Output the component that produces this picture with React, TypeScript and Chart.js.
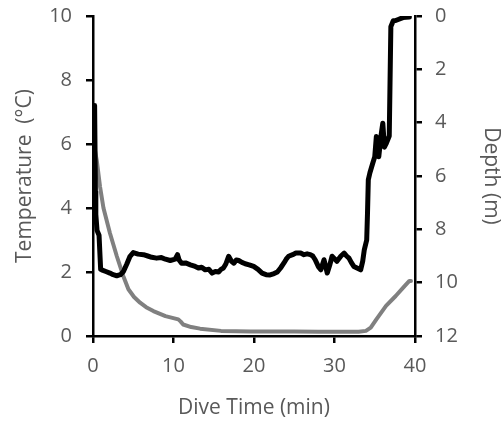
import React, { useEffect, useRef } from "react";
import { Chart, registerables } from "chart.js";

Chart.register(...registerables);

// Depth (m) trace – black, right axis (reversed)
const depthTime = [0.2, 0.3, 0.35, 0.5, 0.75, 0.95, 1.08, 1.6, 2.1, 2.5, 2.95, 3.4, 3.78, 4.2, 4.6, 5.0, 5.6, 6.27, 6.8, 7.3, 7.9, 8.5, 9.0, 9.6, 10.2, 10.5, 10.7, 11.0, 11.5, 12.1, 12.7, 13.1, 13.5, 13.95, 14.4, 14.8, 15.2, 15.6, 15.9, 16.2, 16.5, 16.85, 17.2, 17.5, 17.8, 18.1, 18.5, 18.9, 19.4, 19.96, 20.5, 21.0, 21.5, 22.0, 22.5, 22.9, 23.3, 23.7, 24.0, 24.3, 24.8, 25.2, 25.8, 26.2, 26.6, 27.0, 27.3, 27.6, 28.0, 28.3, 28.7, 29.1, 29.4, 29.7, 30.0, 30.3, 30.8, 31.2, 31.5, 31.8, 32.1, 32.4, 32.8, 33.25, 33.5, 33.7, 34.0, 34.1, 34.2, 34.4, 34.75, 35.0, 35.2, 35.5, 35.8, 36.0, 36.2, 36.4, 36.8, 37.0, 37.3, 37.6, 38.0, 38.5, 38.9, 39.3];
const depthValues = [3.36, 6.6, 7.44, 8.04, 8.22, 9.5, 9.52, 9.58, 9.64, 9.7, 9.74, 9.7, 9.58, 9.3, 9.01, 8.87, 8.93, 8.95, 9.0, 9.05, 9.08, 9.06, 9.12, 9.17, 9.12, 8.95, 9.15, 9.27, 9.26, 9.33, 9.39, 9.45, 9.42, 9.52, 9.5, 9.64, 9.58, 9.6, 9.5, 9.45, 9.3, 9.01, 9.2, 9.27, 9.15, 9.17, 9.24, 9.29, 9.33, 9.39, 9.5, 9.64, 9.7, 9.71, 9.66, 9.6, 9.45, 9.27, 9.12, 9.01, 8.95, 8.89, 8.89, 8.95, 8.92, 8.95, 9.0, 9.14, 9.4, 9.52, 9.14, 9.64, 9.35, 9.01, 9.1, 9.2, 9.0, 8.89, 9.0, 9.08, 9.25, 9.39, 9.45, 9.52, 9.2, 8.77, 8.4, 7.39, 6.14, 5.88, 5.52, 5.28, 4.52, 5.28, 4.44, 4.02, 4.92, 4.8, 4.5, 0.4, 0.18, 0.17, 0.12, 0.06, 0.05, 0.04];

// Temperature (°C) trace – grey, left axis
const tempTime = [0.1, 0.46, 0.87, 1.3, 2.1, 2.95, 3.77, 4.4, 5.1, 5.85, 6.6, 7.5, 9.0, 10.6, 10.9, 11.2, 12.2, 13.3, 15.9, 19.6, 25.0, 28.0, 33.0, 33.9, 34.5, 35.2, 36.4, 37.6, 38.7, 39.3, 39.5];
const tempValues = [6.0, 5.5, 4.67, 4.0, 3.22, 2.5, 1.87, 1.46, 1.22, 1.04, 0.9, 0.78, 0.62, 0.52, 0.45, 0.36, 0.28, 0.23, 0.16, 0.14, 0.14, 0.13, 0.13, 0.16, 0.26, 0.52, 0.94, 1.25, 1.56, 1.72, 1.72];

const xTitle = "Dive Time (min)";
const yLeftTitle = "Temperature  (°C)";
const yRightTitle = "Depth (m)";

const FONT = "'Open Sans', sans-serif";
const TEXT = "#595959";

export default function App() {
  const ref = useRef<HTMLCanvasElement>(null);
  useEffect(() => {
    if (!ref.current) return;
    const depthData = depthTime.map((t, i) => ({ x: t, y: depthValues[i] }));
    const tempData = tempTime.map((t, i) => ({ x: t, y: tempValues[i] }));
    const axisCommon = {
      border: { display: true, color: "#000", width: 2.5 },
      grid: { drawOnChartArea: false, drawTicks: true, tickLength: 7, tickColor: "#000", tickWidth: 2.5, lineWidth: 2.5, color: "#000" },
    };
    const fixV = (w: number) => (s: any) => { s.width = w; s.paddingTop = 0; s.paddingBottom = 0; };
    const chart = new Chart(ref.current, {
      type: "line",
      data: {
        datasets: [
          { label: "Depth", data: depthData, yAxisID: "y1", borderColor: "#000", borderWidth: 5, pointRadius: 0, tension: 0, borderJoinStyle: "round", borderCapStyle: "round" },
          { label: "Temperature", data: tempData, yAxisID: "y", borderColor: "#808080", borderWidth: 4, pointRadius: 0, tension: 0, borderJoinStyle: "round", borderCapStyle: "round" },
        ],
      },
      options: {
        responsive: false,
        animation: false,
        layout: { padding: { top: 16, left: 0, right: 0, bottom: 0 } },
        plugins: { legend: { display: false }, tooltip: { enabled: false } },
        scales: {
          x: {
            type: "linear", min: 0, max: 40,
            ...axisCommon,
            ticks: { stepSize: 10, color: TEXT, font: { family: FONT, size: 20 }, padding: 11 },
            title: { display: true, text: xTitle, color: TEXT, font: { family: FONT, size: 21 }, padding: { top: 0, bottom: 5 } },
            afterFit: (s: any) => { s.height = 90; s.paddingLeft = 0; s.paddingRight = 0; },
          },
          y: {
            type: "linear", position: "left", min: 0, max: 10,
            ...axisCommon,
            ticks: { stepSize: 2, color: TEXT, font: { family: FONT, size: 20 }, padding: 14 },
            title: { display: true, text: yLeftTitle, color: TEXT, font: { family: FONT, size: 21 }, padding: { top: 12, bottom: 0 } },
            afterFit: fixV(93),
          },
          y1: {
            type: "linear", position: "right", min: 0, max: 12, reverse: true,
            ...axisCommon,
            ticks: { stepSize: 2, color: TEXT, font: { family: FONT, size: 20 }, padding: 13 },
            title: { display: true, text: yRightTitle, color: TEXT, font: { family: FONT, size: 21 }, padding: { top: 0, bottom: 0 } },
            afterFit: fixV(89),
          },
        },
      },
    } as any);
    return () => chart.destroy();
  }, []);
  return (
    <div style={{ position: "absolute", left: 0, top: 0, width: 504, height: 426, background: "#fff" }}>
      <canvas ref={ref} width={504} height={426} style={{ display: "block" }} />
    </div>
  );
}
